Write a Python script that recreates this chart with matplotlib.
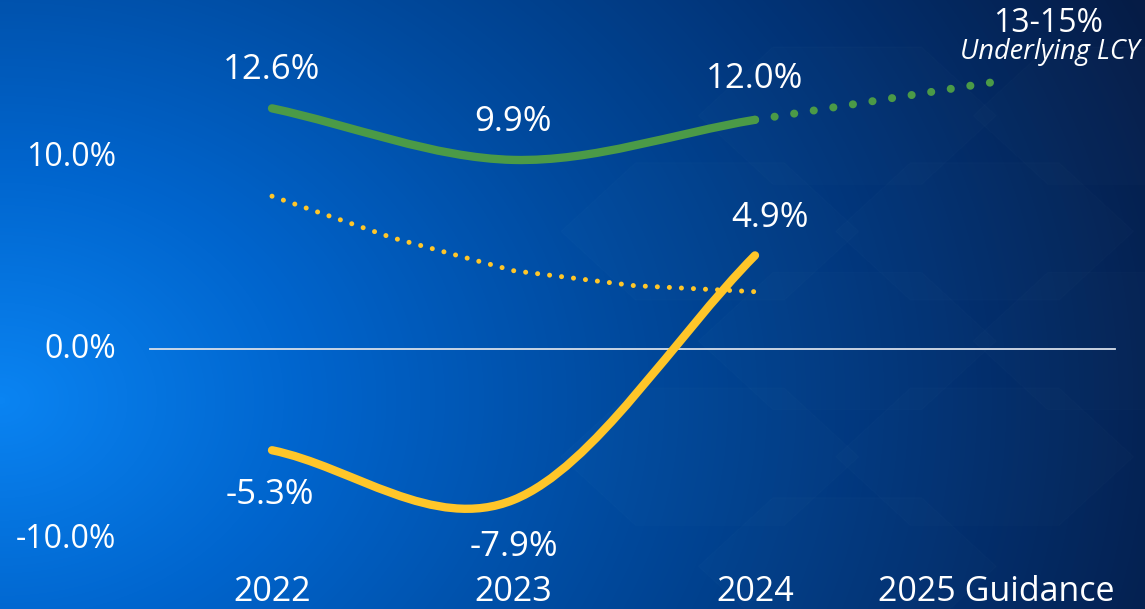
import numpy as np
import matplotlib
matplotlib.use('Agg')
import matplotlib.pyplot as plt
from matplotlib.path import Path
from matplotlib.patches import PathPatch, RegularPolygon
from matplotlib.colors import LinearSegmentedColormap

plt.rcParams['font.family'] = ['Open Sans', 'DejaVu Sans']

# data
years = [2022, 2023, 2024]
x_labels = ['2022', '2023', '2024', '2025 Guidance']
green_vals = [12.6, 9.9, 12.0]
yellow_vals = [-5.3, -7.9, 4.9]
yellow_dotted_vals = [8.0, 4.1, 3.0]
guidance_year = 2025
guidance_mid = 14.0
guidance_label = '13-15%'
guidance_sub = 'Underlying LCY'
green_labels = ['12.6%', '9.9%', '12.0%']
yellow_labels = ['-5.3%', '-7.9%', '4.9%']
y_ticks = [10, 0, -10]
y_tick_labels = ['10.0%', '0.0%', '-10.0%']

GREEN = '#4b9a47'
YELLOW = '#ffc629'


def smooth_path(xs, ys):
    # cubic bezier through the points (catmull-rom style control points)
    pts = np.column_stack([xs, ys]).astype(float)
    n = len(pts)
    tang = []
    for i in range(n):
        if i == 0:
            tang.append(pts[1] - pts[0])
        elif i == n - 1:
            tang.append(pts[-1] - pts[-2])
        else:
            tang.append((pts[i + 1] - pts[i - 1]) / 2)
    verts = [pts[0]]
    codes = [Path.MOVETO]
    for i in range(n - 1):
        verts += [pts[i] + tang[i] / 3, pts[i + 1] - tang[i + 1] / 3, pts[i + 1]]
        codes += [Path.CURVE4] * 3
    return Path(verts, codes)


fig = plt.figure(figsize=(11.45, 6.09), dpi=100)
ax = fig.add_axes([0, 0, 1, 1])

# pixel mapping: 2022 -> 272px, one year = 241.5px; 0% -> 349px, 1% = 19.1px
px_year = 241.5
px_pct = 19.1
x0 = 2022 - 272 / px_year
x1 = 2022 + (1145 - 272) / px_year
y1 = 349 / px_pct
y0 = -(609 - 349) / px_pct
ax.set_xlim(x0, x1)
ax.set_ylim(y0, y1)
ax.axis('off')

# background gradient
W, H = 1145, 609
gx, gy = np.meshgrid(np.arange(W), np.arange(H))
d = np.sqrt((gx - 0) ** 2 + ((gy - 400) * 1.3) ** 2) / 1250
d = np.clip(d, 0, 1)
cmap = LinearSegmentedColormap.from_list('bg', [
    (0.0, '#0a84f2'), (0.25, '#0064cc'), (0.5, '#004a9e'),
    (0.75, '#023274'), (1.0, '#061c46')])
ax.imshow(d, cmap=cmap, extent=[x0, x1, y0, y1], aspect='auto', zorder=0,
          vmin=0, vmax=1)

# faint hexagon pattern
for cx, cy in [(0.62, 0.25), (0.62, 0.62), (0.74, 0.44), (0.74, 0.81),
               (0.86, 0.25), (0.86, 0.62), (0.98, 0.44), (0.74, 0.07),
               (0.98, 0.81)]:
    hexa = RegularPolygon((cx, cy), numVertices=6, radius=0.13,
                          orientation=np.pi / 6, transform=ax.transAxes,
                          facecolor='white', alpha=0.012,
                          edgecolor='white', linewidth=1.0, zorder=1)
    ax.add_patch(hexa)

# zero line
ax.plot([x0 + 150 / px_year, x0 + 1115 / px_year], [0, 0], color='#d8dfea',
        lw=1.3, zorder=2)

# yellow dotted line
yd = smooth_path(years, yellow_dotted_vals)
yd_pts = yd.to_polygons(closed_only=False)[0]
ax.plot(yd_pts[:, 0], yd_pts[:, 1], color=YELLOW, lw=3.6,
        dashes=(0.01, 2.4), dash_capstyle='round', zorder=3)

# green solid
ax.add_patch(PathPatch(smooth_path(years, green_vals), facecolor='none',
                       edgecolor=GREEN, lw=6, capstyle='round', zorder=4))
# green guidance dotted
ax.plot([years[-1], guidance_year], [green_vals[-1], guidance_mid],
        color=GREEN, lw=5.8, dashes=(0.01, 2.45), dash_capstyle='round',
        zorder=4)

# yellow solid
ax.add_patch(PathPatch(smooth_path(years, yellow_vals), facecolor='none',
                       edgecolor=YELLOW, lw=6, capstyle='round', zorder=5))

# data labels
green_off = [(0, 38), (0, 38), (0, 41)]
for x, v, lab, (dx, dy) in zip(years, green_vals, green_labels, green_off):
    ax.text(x + dx / px_year, v + dy / px_pct, lab, color='white',
            fontsize=25, ha='center', va='center', zorder=6)

yellow_off = [(-2, -45), (0, -47), (15, 37)]
for x, v, lab, (dx, dy) in zip(years, yellow_vals, yellow_labels, yellow_off):
    ax.text(x + dx / px_year, v + dy / px_pct, lab, color='white',
            fontsize=25, ha='center', va='center', zorder=6)

ax.text(guidance_year + 52 / px_year, y1 - 23 / px_pct, guidance_label,
        color='white', fontsize=23, ha='center', va='center', zorder=6)
ax.text(guidance_year + 53 / px_year, y1 - 52 / px_pct, guidance_sub,
        color='white', fontsize=19.5, style='italic', ha='center',
        va='center', zorder=6)

# y tick labels
for v, lab in zip(y_ticks, y_tick_labels):
    ax.text(x0 + 116 / px_year, v, lab, color='white', fontsize=23,
            ha='right', va='center', zorder=6)

# x tick labels
for x, lab in zip(years + [guidance_year], x_labels):
    ax.text(x, y0 + 17 / px_pct, lab, color='white', fontsize=24.5,
            ha='center', va='center', zorder=6)

fig.savefig('out.png', dpi=100)
